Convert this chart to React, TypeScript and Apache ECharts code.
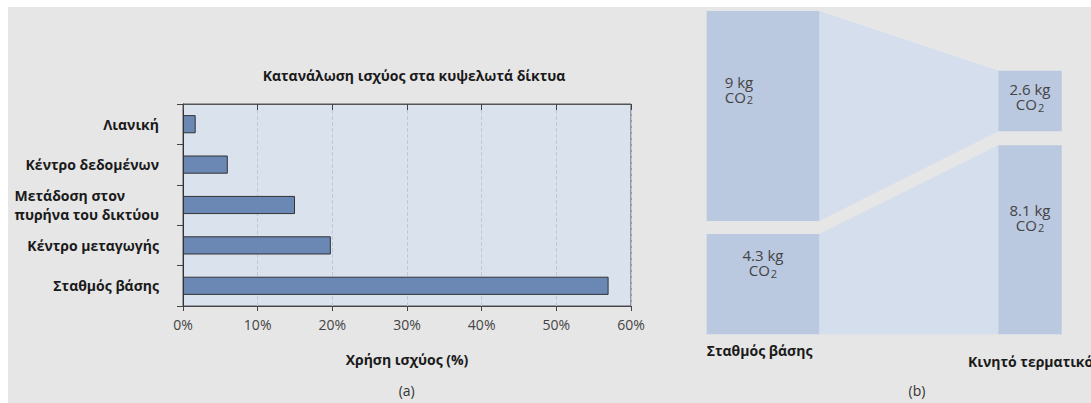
import React, { useEffect, useRef } from 'react';
import * as echarts from 'echarts';

// ---- Data ----
const categories = [
  'Λιανική',
  'Κέντρο δεδομένων',
  'Μετάδοση στον\nπυρήνα του δικτύου',
  'Κέντρο μεταγωγής',
  'Σταθμός βάσης',
];
const powerUsePct = [1.7, 6, 15, 19.8, 57];
const xTickPct = [0, 10, 20, 30, 40, 50, 60];

const devices = ['Σταθμός βάσης', 'Κινητό τερματικό'];
const operationalKg = [9, 2.6];
const embodiedKg = [4.3, 8.1];
const energyLabels = ['Λειτουργική\nενέργεια', 'Ενσωματωμένη\nενέργεια'];

// ---- Layout / style constants ----
const FONT = '"Open Sans", "Noto Sans", "DejaVu Sans", sans-serif';
const GAP_KG = [0.56, 0.6];
const COL_X: number[][] = [
  [0, 0.317],
  [0.8214, 1],
];
// [col][kind] kind 0 = operational, 1 = embodied
const LABEL_LAYOUT = [
  [
    { align: 'left', dx: 18, dy: 63 },
    { align: 'center', dx: 0, dy: 14 },
  ],
  [
    { align: 'center', dx: 0, dy: 11 },
    { align: 'center', dx: 0, dy: 57 },
  ],
];
const RECT_FILL = '#bac8e0';
const FLOW_FILL = '#d5deec';
const DARK = '#1a1a1a';
const KG_COLOR = '#444';

export default function App() {
  const ref = useRef<HTMLDivElement>(null);

  useEffect(() => {
    if (!ref.current) return;
    const chart = echarts.init(ref.current, undefined, { renderer: 'svg' });

    const rectData: number[][] = [];
    const flowData: number[][] = [];
    const opBottoms: number[] = [];
    const opTops: number[] = [];
    devices.forEach((_, i) => {
      const embTop = embodiedKg[i];
      const opBot = embTop + GAP_KG[i];
      const opTop = opBot + operationalKg[i];
      opBottoms.push(opBot);
      opTops.push(opTop);
      rectData.push([i, 0, embTop, embodiedKg[i], 1]);
      rectData.push([i, opBot, opTop, operationalKg[i], 0]);
    });
    const yMax = Math.max(...opTops);
    // operational flow
    flowData.push([COL_X[0][1], opTops[0], opBottoms[0], COL_X[1][0], opTops[1], opBottoms[1]]);
    // embodied flow
    flowData.push([COL_X[0][1], embodiedKg[0], 0, COL_X[1][0], embodiedKg[1], 0]);

    const kgRich = {
      v: { fontSize: 15, lineHeight: 15, fill: KG_COLOR, fontFamily: FONT },
      c: { fontSize: 15, lineHeight: 15, fill: KG_COLOR, fontFamily: FONT },
      s: { fontSize: 11, lineHeight: 15, fill: KG_COLOR, fontFamily: FONT, padding: [6, 0, 0, 1] },
    };

    const boldText = (text: string, x: number, y: number, align: string, lineHeight = 20) => ({
      type: 'text',
      x,
      y,
      silent: true,
      style: {
        text,
        fill: DARK,
        fontSize: 14,
        fontWeight: 'bold',
        fontFamily: FONT,
        align,
        verticalAlign: 'middle',
        lineHeight,
      },
    });

    const option: any = {
      animation: false,
      backgroundColor: '#e6e6e6',
      textStyle: { fontFamily: FONT },
      grid: [
        {
          left: 175,
          top: 97,
          width: 448,
          height: 202,
          show: true,
          backgroundColor: '#dae2ee',
          borderColor: '#555',
          borderWidth: 1,
        },
        { left: 698.7, top: 4, width: 355, height: 323.3, show: false },
      ],
      xAxis: [
        {
          type: 'value',
          gridIndex: 0,
          min: xTickPct[0],
          max: xTickPct[xTickPct.length - 1],
          interval: xTickPct[1] - xTickPct[0],
          position: 'bottom',
          axisLine: { show: true, lineStyle: { color: '#444' } },
          axisTick: { show: true, length: 5, lineStyle: { color: '#444' } },
          axisLabel: { formatter: '{value}%', fontSize: 14, color: '#444', margin: 11, fontFamily: FONT },
          splitLine: { show: true, lineStyle: { color: '#c3c8d2', type: 'dashed' } },
          name: 'Χρήση ισχύος (%)',
          nameLocation: 'middle',
          nameGap: 46,
          nameTextStyle: { fontSize: 14, fontWeight: 'bold', color: DARK, fontFamily: FONT },
        },
        {
          type: 'value',
          gridIndex: 0,
          min: xTickPct[0],
          max: xTickPct[xTickPct.length - 1],
          interval: xTickPct[1] - xTickPct[0],
          position: 'top',
          axisLine: { show: true, lineStyle: { color: '#555' } },
          axisTick: { show: true, inside: true, length: 6, lineStyle: { color: '#444' } },
          axisLabel: { show: false },
          splitLine: { show: false },
        },
        { type: 'value', gridIndex: 1, min: 0, max: 1, show: false },
      ],
      yAxis: [
        {
          type: 'category',
          gridIndex: 0,
          data: categories,
          inverse: true,
          axisLine: { show: true, lineStyle: { color: '#333' } },
          axisTick: { show: true, length: 6, lineStyle: { color: '#444' } },
          axisLabel: {
            margin: 24,
            fontSize: 14,
            fontWeight: 'bold',
            color: DARK,
            fontFamily: FONT,
            formatter: (v: string) =>
              v.indexOf('\n') >= 0
                ? v
                    .split('\n')
                    .map((s) => `{l|${s}}`)
                    .join('\n')
                : v,
            rich: {
              l: {
                align: 'left',
                fontSize: 14,
                fontWeight: 'bold',
                color: DARK,
                fontFamily: FONT,
                lineHeight: 19,
              },
            },
          },
          splitLine: { show: false },
        },
        { type: 'value', gridIndex: 1, min: 0, max: yMax, show: false },
      ],
      series: [
        {
          type: 'bar',
          xAxisIndex: 0,
          yAxisIndex: 0,
          data: powerUsePct,
          barWidth: '45%',
          itemStyle: { color: '#6b88b5', borderColor: '#333', borderWidth: 1 },
          silent: true,
        },
        {
          type: 'custom',
          xAxisIndex: 2,
          yAxisIndex: 1,
          silent: true,
          data: flowData,
          renderItem: (_params: any, api: any) => {
            const xl = api.value(0);
            const ylt = api.value(1);
            const ylb = api.value(2);
            const xr = api.value(3);
            const yrt = api.value(4);
            const yrb = api.value(5);
            const pts = [
              api.coord([xl, ylt]),
              api.coord([xr, yrt]),
              api.coord([xr, yrb]),
              api.coord([xl, ylb]),
            ];
            return { type: 'polygon', shape: { points: pts }, style: { fill: FLOW_FILL } };
          },
        },
        {
          type: 'custom',
          xAxisIndex: 2,
          yAxisIndex: 1,
          silent: true,
          data: rectData,
          renderItem: (_params: any, api: any) => {
            const col = api.value(0);
            const y0 = api.value(1);
            const y1 = api.value(2);
            const kg = api.value(3);
            const kind = api.value(4);
            const fx = COL_X[col];
            const pA = api.coord([fx[0], y1]);
            const pB = api.coord([fx[1], y0]);
            const lay = LABEL_LAYOUT[col][kind];
            const tx = lay.align === 'left' ? pA[0] + lay.dx : (pA[0] + pB[0]) / 2;
            return {
              type: 'group',
              children: [
                {
                  type: 'rect',
                  shape: { x: pA[0], y: pA[1], width: pB[0] - pA[0], height: pB[1] - pA[1] },
                  style: { fill: RECT_FILL },
                },
                {
                  type: 'text',
                  x: tx,
                  y: pA[1] + lay.dy,
                  style: {
                    text: `{v|${kg} kg}\n{c|CO}{s|2}`,
                    align: lay.align,
                    verticalAlign: 'top',
                    fill: KG_COLOR,
                    fontSize: 15,
                    fontFamily: FONT,
                    rich: kgRich,
                  },
                },
              ],
            };
          },
        },
      ],
      graphic: [
        boldText('Κατανάλωση ισχύος στα κυψελωτά δίκτυα', 406, 68, 'center'),
        {
          type: 'text',
          x: 398.7,
          y: 383,
          silent: true,
          style: { text: '(a)', fill: '#333', fontSize: 14, fontFamily: FONT, align: 'center', verticalAlign: 'middle' },
        },
        {
          type: 'text',
          x: 909,
          y: 383,
          silent: true,
          style: { text: '(b)', fill: '#333', fontSize: 14, fontFamily: FONT, align: 'center', verticalAlign: 'middle' },
        },
        boldText(devices[0], 698.7, 343.7, 'left'),
        boldText(devices[1], 960, 354, 'left'),
        boldText(energyLabels[0], 837.7, 84, 'left'),
        boldText(energyLabels[1], 837.7, 253, 'left'),
      ],
    };

    chart.setOption(option);
    return () => {
      chart.dispose();
    };
  }, []);

  return (
    <div
      ref={ref}
      style={{ position: 'fixed', left: 8, top: 7, width: 1083, height: 396 }}
    />
  );
}
